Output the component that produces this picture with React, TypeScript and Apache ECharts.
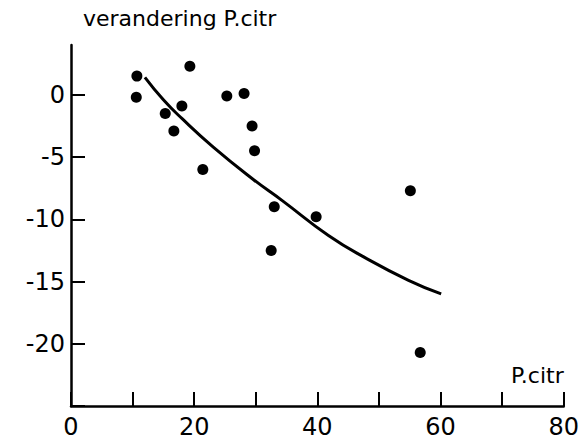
import React, { useEffect, useRef } from "react";
import * as echarts from "echarts";

// Observed points (P.citr, verandering P.citr)
const pointsX = [10.7, 10.6, 19.3, 18.0, 15.3, 16.7, 21.4, 25.3, 28.1, 29.4, 29.8, 33.0, 32.5, 39.8, 55.1, 56.7];
const pointsY = [1.5, -0.2, 2.3, -0.9, -1.5, -2.9, -6.0, -0.1, 0.1, -2.5, -4.5, -9.0, -12.5, -9.8, -7.7, -20.7];

// Fitted curve
const curveX = [12.0, 15.0, 18.0, 23.1, 29.6, 34.3, 41.8, 47.8, 54.8, 60.1];
const curveY = [1.4, -0.4, -1.9, -4.2, -6.8, -8.5, -11.3, -13.1, -14.9, -16.0];

const xTickLabels = ["0", "20", "40", "60", "80"];
const yTickLabels = ["0", "-5", "-10", "-15", "-20"];

const FONT = "DejaVu Sans";

export default function App() {
  const ref = useRef<HTMLDivElement>(null);

  useEffect(() => {
    if (!ref.current) return;
    const chart = echarts.init(ref.current, undefined, { renderer: "svg" });
    const scatterData = pointsX.map((x, i) => [x, pointsY[i]]);
    const curveData = curveX.map((x, i) => [x, curveY[i]]);
    chart.setOption({
      animation: false,
      backgroundColor: "#ffffff",
      grid: { left: 71, right: 18, top: 45, bottom: 34, containLabel: false },
      xAxis: {
        type: "value",
        min: 0,
        max: 80,
        interval: 10,
        name: "P.citr",
        nameLocation: "end",
        nameGap: 0,
        nameTextStyle: {
          color: "#000",
          fontFamily: FONT,
          fontSize: 22,
          align: "right",
          verticalAlign: "bottom",
          padding: [0, 0, 20, 0],
        },
        splitLine: { show: false },
        axisLine: { show: true, onZero: false, lineStyle: { color: "#000", width: 2.5 } },
        axisTick: { show: true, inside: true, length: 14, lineStyle: { color: "#000", width: 2 } },
        axisLabel: {
          color: "#000",
          fontFamily: FONT,
          fontSize: 24,
          margin: 9,
          formatter: (v: number) => {
            const s = String(Math.round(v));
            return xTickLabels.includes(s) ? s : "";
          },
        },
      },
      yAxis: {
        type: "value",
        min: -25,
        max: 4,
        interval: 5,
        name: "verandering P.citr",
        nameLocation: "end",
        nameGap: 16,
        nameTextStyle: {
          color: "#000",
          fontFamily: FONT,
          fontSize: 22,
          align: "left",
          padding: [0, 0, 0, 12],
        },
        splitLine: { show: false },
        axisLine: { show: true, onZero: false, lineStyle: { color: "#000", width: 2.5 } },
        axisTick: { show: true, inside: true, length: 14, lineStyle: { color: "#000", width: 2 } },
        axisLabel: {
          color: "#000",
          fontFamily: FONT,
          fontSize: 24,
          margin: 6,
          showMaxLabel: false,
          formatter: (v: number) => {
            const s = String(Math.round(v));
            return yTickLabels.includes(s) ? s : "";
          },
        },
      },
      series: [
        {
          type: "line",
          data: curveData,
          smooth: true,
          showSymbol: false,
          lineStyle: { color: "#000", width: 3 },
          z: 2,
        },
        {
          type: "scatter",
          data: scatterData,
          symbol: "circle",
          symbolSize: 11,
          itemStyle: { color: "#000", opacity: 1 },
          z: 3,
        },
      ],
    });
    return () => chart.dispose();
  }, []);

  return (
    <div
      ref={ref}
      style={{ position: "fixed", left: 0, top: 0, width: 582, height: 440, background: "#fff" }}
    />
  );
}
